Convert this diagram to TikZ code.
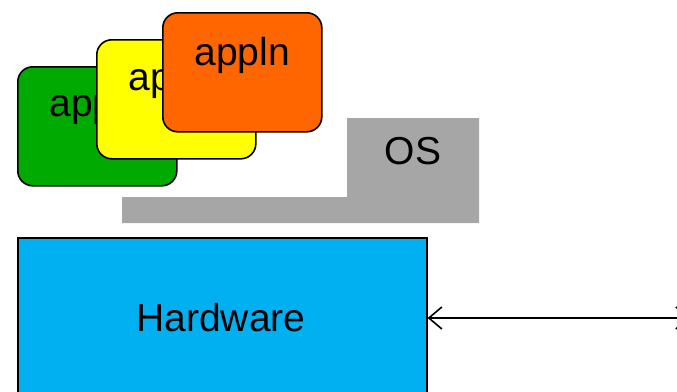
\documentclass[tikz,border=0pt]{standalone}
\usepackage{fontspec}
\setmainfont{Liberation Sans}
\usetikzlibrary{arrows.meta,calc}
\definecolor{appgreen}{HTML}{00AA00}
\definecolor{appyellow}{HTML}{FFFF00}
\definecolor{apporange}{HTML}{FF6600}
\definecolor{osgray}{HTML}{A6A6A6}
\definecolor{hwblue}{HTML}{00B0F0}
\tikzset{
  appbox/.style={draw=black, line width=1.6pt, rounded corners=15pt, minimum width=159pt, minimum height=119pt, inner sep=0pt, anchor=north west},
  apptext/.style={anchor=base, inner sep=0pt, font=\fontsize{39}{39}\selectfont},
  bigtext/.style={inner sep=0pt, font=\fontsize{39}{39}\selectfont},
  link/.style={line width=1.6pt, {Straight Barb[length=13pt,width=22pt,line width=1.6pt]}-{Straight Barb[length=13pt,width=22pt,line width=1.6pt]}}
}
\begin{document}
\begin{tikzpicture}[x=1pt,y=-1pt]
\useasboundingbox (0,0) rectangle (677,391);
\clip (0,0) rectangle (677,391);
% applications
\node[appbox, fill=appgreen] (g) at (17,66) {};
\node[apptext] (gt) at ($(g.north)+(0,50)$) {appln};
\node[appbox, fill=appyellow] (y) at (96,39) {};
\node[apptext] (yt) at ($(y.north)+(0,51)$) {appln};
\node[appbox, fill=apporange] (o) at (162,12) {};
\node[apptext] (ot) at ($(o.north)+(0,53)$) {appln};
% OS
\fill[osgray] (347,118) -- (479,118) -- (479,223) -- (122,223) -- (122,197) -- (347,197) -- cycle;
\node[bigtext] (os) at (413,151) {OS};
% Hardware
\node[draw=black, line width=1.6pt, fill=hwblue, minimum width=409pt, minimum height=180pt, inner sep=0pt, anchor=north west] (hwbox) at (17,237) {};
\node[bigtext] (hw) at (221,318) {Hardware};
\coordinate (far) at (690,318);
\draw[link] (hwbox.east |- hw) -- (far);
\end{tikzpicture}
\end{document}
